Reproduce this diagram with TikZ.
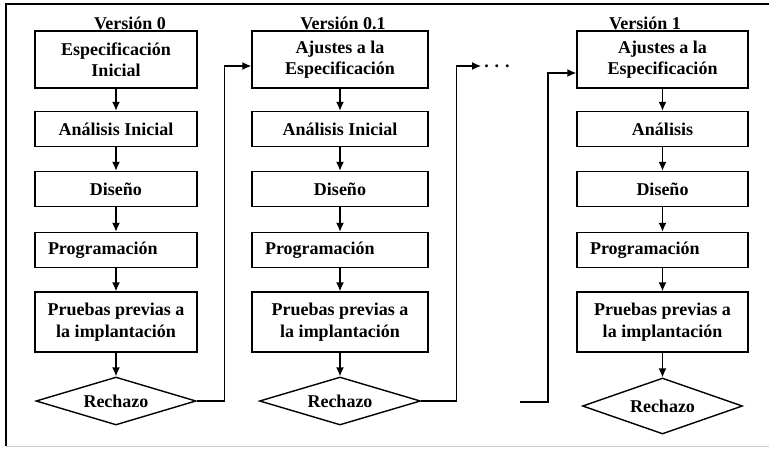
\documentclass[tikz,border=0pt]{standalone}
\usepackage{fontspec}
\setmainfont{Liberation Serif}
\usetikzlibrary{arrows.meta,shapes.geometric}

\begin{document}
\begin{tikzpicture}[
  x=1pt,y=-1pt,
  font=\bfseries\fontsize{18}{21.5}\selectfont,
  box/.style={draw,line width=1.4pt,align=center,inner sep=2pt},
  wa/.style={minimum width=162pt},
  wb/.style={minimum width=176pt},
  wc/.style={minimum width=171pt},
  tall/.style={minimum height=57pt},
  one/.style={minimum height=35pt},
  two/.style={minimum height=60pt},
  prog/.style={box,align=left,inner xsep=13pt,text width=#1},
  rech/.style={draw,line width=1.4pt,diamond,aspect=3.3,inner sep=0pt,minimum height=48pt},
  ttl/.style={inner sep=0pt},
  ar/.style={-{Latex[length=9pt,width=8pt]},line width=1.4pt},
  frame/.style={line width=1.4pt}
]
\useasboundingbox (0,0) rectangle (769,448);

% ---------------- frame
\draw[frame] (769,4) -- (6,4) -- (6,446);
\draw[gray!40,line width=1pt] (6,446.5) -- (769,446.5);

% ---------------- version 0
\node[ttl] (va) at (130,23) {Versión 0};
\node[box,wa,tall] (a1) at (116,59.5) {Especificación\\Inicial};
\node[box,wa,one] (a2) at (116,129) {Análisis Inicial};
\node[box,wa,one] (a3) at (116,189) {Diseño};
\node[prog=136pt,one] (a4) at (116,250) {Programación};
\node[box,wa,two] (a5) at (116,322) {Pruebas previas a\\la implantación};
\node[rech,minimum width=160pt] (ra) at (116,401) {Rechazo};

% ---------------- version 0.1
\node[ttl] (vb) at (343,23) {Versión 0.1};
\node[box,wb,tall] (b1) at (340,59.5) {Ajustes a la\\Especificación};
\node[box,wb,one] (b2) at (340,129) {Análisis Inicial};
\node[box,wb,one] (b3) at (340,189) {Diseño};
\node[prog=150pt,one] (b4) at (340,250) {Programación};
\node[box,wb,two] (b5) at (340,322) {Pruebas previas a\\la implantación};
\node[rech,minimum width=161pt] (rb) at (340,401) {Rechazo};

% ---------------- version 1
\node[ttl] (vc) at (645,23) {Versión 1};
\node[box,wc,tall] (c1) at (662.5,59.5) {Ajustes a la\\Especificación};
\node[box,wc,one] (c2) at (662.5,129) {Análisis};
\node[box,wc,one] (c3) at (662.5,189) {Diseño};
\node[prog=145pt,one] (c4) at (662.5,250) {Programación};
\node[box,wc,two] (c5) at (662.5,322) {Pruebas previas a\\la implantación};
\node[rech,minimum width=160pt,minimum height=56pt] (rc) at (662.5,406) {Rechazo};

% ---------------- the dots between versions
\node[inner sep=3pt] (dots) at (497,66) {. . .};
\coordinate (from3) at (520,402);

% ---------------- arrows
\foreach \c in {a,b,c} {
  \foreach \i/\j in {1/2,2/3,3/4,4/5} \draw[ar] (\c\i) -- (\c\j);
  \draw[ar] (\c5) -- (r\c);
}
\draw[ar] (ra.east) -- ++(28,0) |- ([yshift=-6.5pt]b1.west);
\draw[ar] (rb.east) -- ++(35,0) |- (dots.west);
\draw[ar] (from3) -- ++(28,0) |- ([yshift=-13.5pt]c1.west);
\end{tikzpicture}
\end{document}
